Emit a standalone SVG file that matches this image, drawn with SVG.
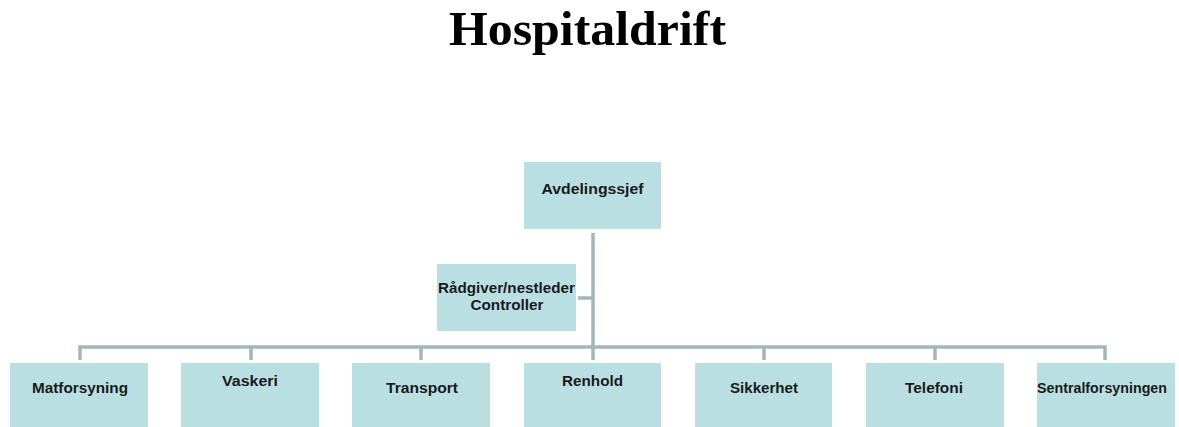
<svg xmlns="http://www.w3.org/2000/svg" width="1179" height="427" viewBox="0 0 1179 427">
<style>
.box{fill:#b9dfe3;}
.lbl{font-family:"Liberation Sans",Arial,sans-serif;font-weight:bold;font-size:14.5px;fill:#1a1a1a;text-anchor:middle;}
.title{font-family:"Liberation Serif","Times New Roman",serif;font-weight:bold;font-size:49px;fill:#000;text-anchor:middle;}
.conn{stroke:#a2b7b9;stroke-width:3.5;fill:none;}
</style>
<rect width="1179" height="427" fill="#fff"/>
<text class="title" x="587.5" y="45" textLength="277" lengthAdjust="spacingAndGlyphs">Hospitaldrift</text>
<g id="connectors">
<path class="conn" d="M593,233 V360"/>
<path class="conn" d="M578,298 H593"/>
<path class="conn" d="M80,360 V347 H1105 V360"/>
<path class="conn" d="M251,347 V360 M421,347 V360 M764,347 V360 M935,347 V360"/>
</g>
<g id="avdelingssjef"><rect class="box" x="524" y="162" width="137" height="67"/><text class="lbl" x="592.5" y="194" textLength="102" lengthAdjust="spacingAndGlyphs">Avdelingssjef</text></g>
<g id="radgiver"><rect class="box" x="437" y="264" width="139" height="67"/><text class="lbl" x="506.5" y="293" textLength="137" lengthAdjust="spacingAndGlyphs">Rådgiver/nestleder</text><text class="lbl" x="507" y="310" textLength="73" lengthAdjust="spacingAndGlyphs">Controller</text></g>
<g id="matforsyning"><rect class="box" x="10" y="363" width="138" height="70"/><text class="lbl" x="80" y="393" textLength="96" lengthAdjust="spacingAndGlyphs">Matforsyning</text></g>
<g id="vaskeri"><rect class="box" x="181" y="363" width="138" height="70"/><text class="lbl" x="250" y="386" textLength="56" lengthAdjust="spacingAndGlyphs">Vaskeri</text></g>
<g id="transport"><rect class="box" x="352" y="363" width="138" height="70"/><text class="lbl" x="422" y="393" textLength="72" lengthAdjust="spacingAndGlyphs">Transport</text></g>
<g id="renhold"><rect class="box" x="524" y="363" width="137" height="70"/><text class="lbl" x="592.5" y="386" textLength="61" lengthAdjust="spacingAndGlyphs">Renhold</text></g>
<g id="sikkerhet"><rect class="box" x="695" y="363" width="137" height="70"/><text class="lbl" x="764" y="393" textLength="68" lengthAdjust="spacingAndGlyphs">Sikkerhet</text></g>
<g id="telefoni"><rect class="box" x="866" y="363" width="138" height="70"/><text class="lbl" x="934" y="393" textLength="58" lengthAdjust="spacingAndGlyphs">Telefoni</text></g>
<g id="sentralforsyningen"><rect class="box" x="1037" y="363" width="138" height="70"/><text class="lbl" x="1102" y="393" textLength="130" lengthAdjust="spacingAndGlyphs">Sentralforsyningen</text></g>
</svg>
